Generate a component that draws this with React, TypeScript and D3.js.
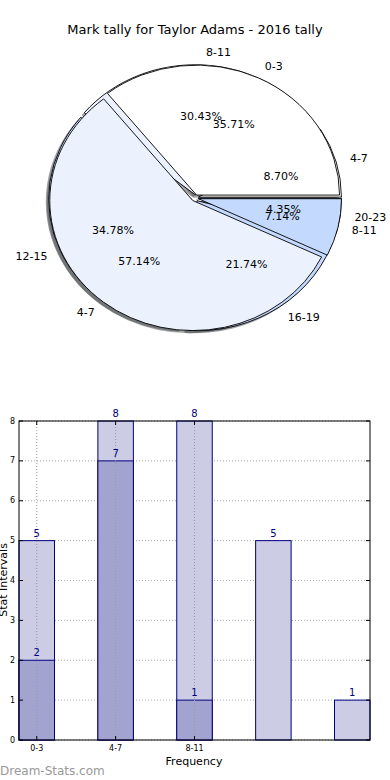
import React from "react";
import * as d3 from "d3";

// pie data (two overlapping pies)
const pieALabels = ["0-3", "4-7", "8-11"];
const pieAValues = [5, 8, 1];
const pieAColors = ["#ffffff", "#ebf2fe", "#c4d9fe"];

const pieBLabels = ["4-7", "8-11", "12-15", "16-19", "20-23"];
const pieBValues = [2, 7, 8, 5, 1];
const pieBColors = ["#ffffff", "#ebf2fe", "#c4d9fe", "#c4d9fe", "#c4d9fe"];

// bar data
const barTickLabels = ["0-3", "4-7", "8-11"];
const lightBars = [5, 8, 8, 5, 1];
const darkBars = [2, 7, 1];
const yTicks = [0, 1, 2, 3, 4, 5, 6, 7, 8];

const W = 390;
const H = 780;
const font = "DejaVu Sans, sans-serif";

// pie geometry
const cx = 195;
const cy = 198;
const rx = 143;
const ry = 130;
const explode = 0.025;

const darken = (c: string) => {
  const col = d3.rgb(c);
  return d3.rgb(col.r * 0.3, col.g * 0.3, col.b * 0.3).toString();
};

const pieLayout = d3
  .pie<number>()
  .sort(null)
  .value((d) => d)
  .startAngle(Math.PI / 2)
  .endAngle(Math.PI / 2 - 2 * Math.PI);

const arcGen = d3.arc<d3.PieArcDatum<number>>().innerRadius(0).outerRadius(1);

function buildWedges(values: number[], labels: string[], colors: string[]) {
  const total = d3.sum(values);
  return pieLayout(values).map((d, i) => {
    const m = (d.startAngle + d.endAngle) / 2;
    const ux = Math.sin(m);
    const uy = -Math.cos(m);
    const ox = cx + explode * rx * ux;
    const oy = cy + explode * ry * uy;
    return {
      d,
      label: labels[i],
      color: colors[i],
      pct: ((values[i] / total) * 100).toFixed(2) + "%",
      ox,
      oy,
      ux,
      uy,
    };
  });
}

const wedgesA = buildWedges(pieAValues, pieALabels, pieAColors);
const wedgesB = buildWedges(pieBValues, pieBLabels, pieBColors);

// bar geometry
const ax0 = 19;
const ax1 = 370;
const ay0 = 421;
const ay1 = 740;
const barW = 0.45;
const x = d3.scaleLinear().domain([0, lightBars.length - 1 + barW]).range([ax0, ax1]);
const y = d3.scaleLinear().domain([0, 8]).range([ay1, ay0]);
const navy = "#000080";

export default function App() {
  const allWedges = [...wedgesB, ...wedgesA];
  return (
    <svg width={W} height={H} style={{ position: "absolute", left: 0, top: 0, background: "#fff" }}>
      <rect width={W} height={H} fill="#fff" />
      <text x={195} y={34} textAnchor="middle" fontFamily={font} fontSize={13} fill="#000">
        Mark tally for Taylor Adams - 2016 tally
      </text>

      {/* shadows */}
      {allWedges.map((w, i) => (
        <g key={"s" + i} transform={`translate(${w.ox - 2.9},${w.oy + 2.6}) scale(${rx},${ry})`}>
          <path d={arcGen(w.d) || ""} fill={darken(w.color)} opacity={0.5} />
        </g>
      ))}
      {/* wedges: pie B under pie A */}
      {allWedges.map((w, i) => (
        <g key={"w" + i} transform={`translate(${w.ox},${w.oy}) scale(${rx},${ry})`}>
          <path
            d={arcGen(w.d) || ""}
            fill={w.color}
            stroke="#000"
            strokeWidth={0.9}
            vectorEffect="non-scaling-stroke"
            strokeLinejoin="round"
          />
        </g>
      ))}
      {/* labels */}
      {allWedges.map((w, i) => (
        <text
          key={"l" + i}
          x={w.ox + 1.1 * rx * w.ux}
          y={w.oy + 1.1 * ry * w.uy}
          textAnchor={w.ux >= 0 ? "start" : "end"}
          dominantBaseline="central"
          fontFamily={font}
          fontSize={11}
          fill="#000"
        >
          {w.label}
        </text>
      ))}
      {allWedges.map((w, i) => (
        <text
          key={"p" + i}
          x={w.ox + 0.6 * rx * w.ux}
          y={w.oy + 0.6 * ry * w.uy}
          textAnchor="middle"
          dominantBaseline="central"
          fontFamily={font}
          fontSize={11}
          fill="#000"
        >
          {w.pct}
        </text>
      ))}

      {/* bar chart */}
      <g>
        {yTicks.map((t) => (
          <line key={"gy" + t} x1={ax0} x2={ax1} y1={y(t)} y2={y(t)} stroke="#aaa" strokeWidth={1} strokeDasharray="1,2" />
        ))}
        {lightBars.map((v, i) => (
          <rect
            key={"lb" + i}
            x={x(i)}
            y={y(v)}
            width={x(i + barW) - x(i)}
            height={y(0) - y(v)}
            fill="#ccccE5"
            stroke={navy}
            strokeWidth={1}
          />
        ))}
        {darkBars.map((v, i) => (
          <rect
            key={"db" + i}
            x={x(i)}
            y={y(v)}
            width={x(i + barW) - x(i)}
            height={y(0) - y(v)}
            fill="#a3a3cf"
            stroke={navy}
            strokeWidth={1}
          />
        ))}
        {barTickLabels.map((t, i) => (
          <line
            key={"gx" + i}
            x1={x(i + barW / 2)}
            x2={x(i + barW / 2)}
            y1={ay0}
            y2={ay1}
            stroke="#999"
            strokeWidth={1}
            strokeDasharray="1,2"
          />
        ))}
        {lightBars.map((v, i) => (
          <text key={"lt" + i} x={x(i + barW / 2)} y={y(v) - 4} textAnchor="middle" fontFamily={font} fontSize={10} fill={navy}>
            {v}
          </text>
        ))}
        {darkBars.map((v, i) => (
          <text key={"dt" + i} x={x(i + barW / 2)} y={y(v) - 4} textAnchor="middle" fontFamily={font} fontSize={10} fill={navy}>
            {v}
          </text>
        ))}
        <rect x={ax0} y={ay0} width={ax1 - ax0} height={ay1 - ay0} fill="none" stroke="#000" strokeWidth={1} />
        {yTicks.map((t) => (
          <g key={"yt" + t}>
            <line x1={ax0} x2={ax0 + 4} y1={y(t)} y2={y(t)} stroke="#000" />
            <line x1={ax1} x2={ax1 - 4} y1={y(t)} y2={y(t)} stroke="#000" />
            <text x={ax0 - 4} y={y(t)} textAnchor="end" dominantBaseline="central" fontFamily={font} fontSize={8} fill="#000">
              {t}
            </text>
          </g>
        ))}
        {barTickLabels.map((t, i) => (
          <g key={"xt" + i}>
            <line x1={x(i + barW / 2)} x2={x(i + barW / 2)} y1={ay1} y2={ay1 - 4} stroke="#000" />
            <line x1={x(i + barW / 2)} x2={x(i + barW / 2)} y1={ay0} y2={ay0 + 4} stroke="#000" />
            <text x={x(i + barW / 2)} y={ay1 + 11} textAnchor="middle" fontFamily={font} fontSize={8} fill="#000">
              {t}
            </text>
          </g>
        ))}
        <text x={194} y={765} textAnchor="middle" fontFamily={font} fontSize={11} fill="#000">
          Frequency
        </text>
        <text
          transform={`translate(7,580) rotate(-90)`}
          textAnchor="middle"
          fontFamily={font}
          fontSize={11}
          fill="#000"
        >
          Stat Intervals
        </text>
      </g>
      <text x={0} y={775} fontFamily={font} fontSize={12} fill="#999">
        Dream-Stats.com
      </text>
    </svg>
  );
}
